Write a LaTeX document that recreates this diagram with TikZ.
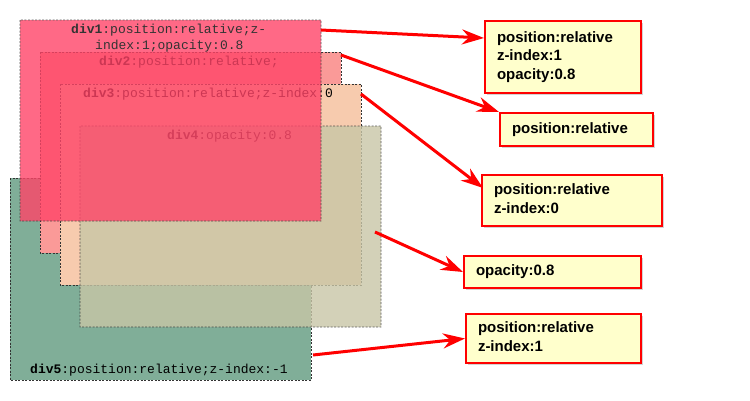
\documentclass[tikz,border=0pt]{standalone}
\usepackage{fontspec}
\setmainfont{Liberation Sans}
\newfontfamily\monofont{Liberation Mono}
\usetikzlibrary{arrows.meta,shadows}
\definecolor{divone}{HTML}{FF4468}
\definecolor{divtwo}{HTML}{FA9A98}
\definecolor{divthree}{HTML}{F7CBAE}
\definecolor{divfour}{HTML}{C8C6A6}
\definecolor{divfive}{HTML}{80AE98}
\definecolor{notefill}{HTML}{FFFFCC}
\tikzset{
  divbox/.style={draw=black!80,dashed,line width=0.6pt,dash pattern=on 2pt off 1.5pt},
  divtxt/.style={font=\monofont\fontsize{13}{16}\selectfont,inner sep=0pt,anchor=west},
  note/.style={draw=red,line width=2pt,fill=notefill,anchor=north west,align=left,
    font=\bfseries\fontsize{15}{18.5}\selectfont,inner xsep=0pt,inner ysep=0pt,
    drop shadow={shadow xshift=2pt,shadow yshift=-2pt,opacity=0.35}},
  pointer/.style={red,line width=3pt,-{Stealth[length=22pt,width=15pt]}}
}
\newcommand{\notebox}[3]{\parbox[c][#2pt][c]{#1pt}{\hspace*{12pt}\begin{tabular}{@{}l@{}}#3\end{tabular}}}
\begin{document}
\begin{tikzpicture}[x=1pt,y=-1pt]
  \useasboundingbox (0,0) rectangle (750,400);
  % stacked divs
  \filldraw[divbox,fill=divfive] (10,178) rectangle (311,380);
  \node[divtxt] (t5) at (30,370) {\textbf{div5}:position:relative;z-index:-1};
  \filldraw[divbox,fill=divtwo] (40,52) rectangle (341,253);
  \node[divtxt] (t2) at (99,62) {\textbf{div2}:position:relative;};
  \filldraw[divbox,fill=divthree] (60,84) rectangle (361,285);
  \node[divtxt] (t3) at (83,94) {\textbf{div3}:position:relative;z-index:0};
  \begin{scope}[opacity=0.8,transparency group]
    \filldraw[divbox,fill=divfour] (80,126) rectangle (381,327);
    \node[divtxt] (t4) at (167,136) {\textbf{div4}:opacity:0.8};
  \end{scope}
  \begin{scope}[opacity=0.8,transparency group]
    \filldraw[divbox,fill=divone] (20,20) rectangle (321,221);
    \node[divtxt] (t1a) at (71,30) {\textbf{div1}:position:relative;z-};
    \node[divtxt] (t1b) at (95,46) {index:1;opacity:0.8};
  \end{scope}
  % callouts
  \node[note] (n1) at (484,20) {\notebox{156}{72}{position:relative\\z-index:1\\opacity:0.8}};
  \node[note] (n2) at (499,112) {\notebox{153}{33}{position:relative}};
  \node[note] (n3) at (481,174) {\notebox{180}{51}{position:relative\\z-index:0}};
  \node[note] (n4) at (463,255) {\notebox{177}{32}{opacity:0.8}};
  \node[note] (n5) at (465,313) {\notebox{175}{49}{position:relative\\z-index:1}};
  \coordinate (s1) at (321,30);
  \coordinate (s2) at (341,55);
  \coordinate (s3) at (361,94);
  \coordinate (s4) at (375,232);
  \coordinate (s5) at (313,355);
  \draw[pointer] (s1) -- (n1.west |- 0,38);
  \draw[pointer] (s2) -- (n2.north west);
  \draw[pointer] (s3) -- (483,188);
  \draw[pointer] (s4) -- (n4.west);
  \draw[pointer] (s5) -- (n5.west);
\end{tikzpicture}
\end{document}
